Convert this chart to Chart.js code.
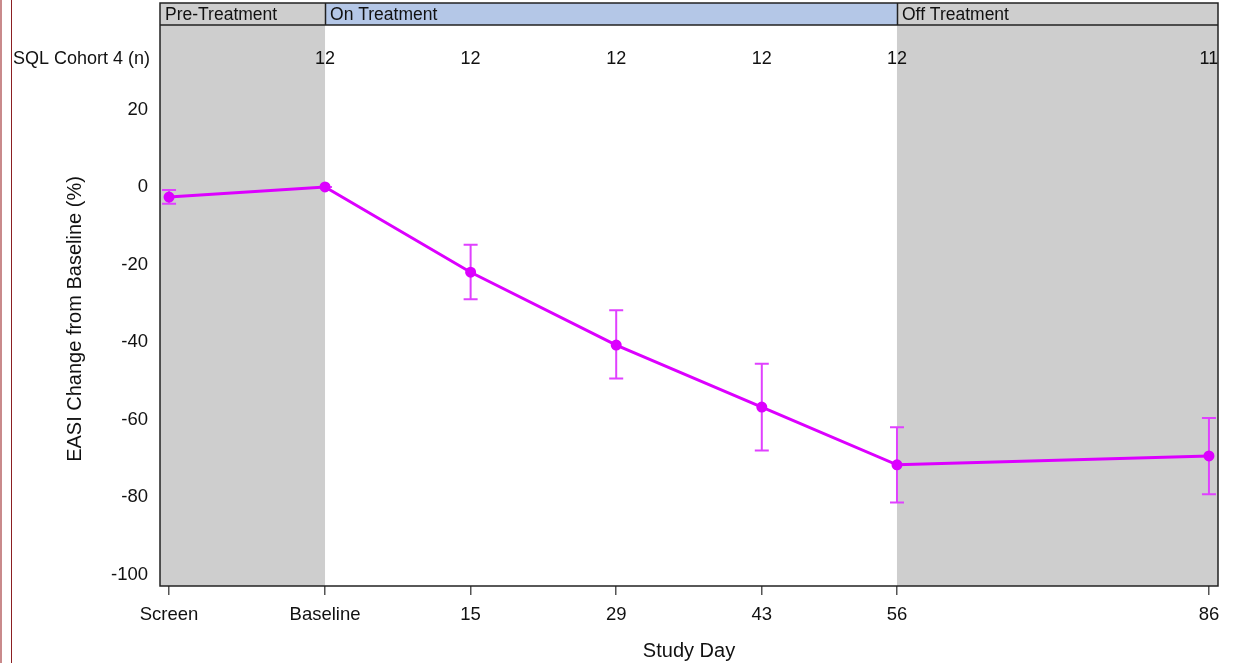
<!DOCTYPE html>
<html>
<head>
<meta charset="utf-8">
<script src="https://cdn.jsdelivr.net/npm/chart.js@4.4.1/dist/chart.umd.min.js"></script>
<style>
html, body { margin: 0; padding: 0; background: #fff; }
#wrap { position: relative; width: 1234px; height: 663px; }
#chart { display: block; }
.edge1 { position: absolute; left: 0; top: 0; width: 2px; height: 663px; background: #c98a8b; }
.edge2 { position: absolute; left: 11px; top: 0; width: 1px; height: 663px; background: #8b1f22; }
</style>
</head>
<body>
<div id="wrap">
  <canvas id="chart" width="1234" height="663" style="width:1234px;height:663px"></canvas>
  <div class="edge1"></div>
  <div class="edge2"></div>
</div>
<script>
// study visits (study day, with Screen at -14 and Baseline at day 1)
const days = [-14, 1, 15, 29, 43, 56, 86];
const dayLabels = ['Screen', 'Baseline', '15', '29', '43', '56', '86'];
// mean % change in EASI and the error bar ends
const means = [-2.6, 0, -22.0, -40.8, -56.8, -71.7, -69.4];
const upper = [-0.8, 0, -14.9, -31.8, -45.6, -62.0, -59.6];
const lower = [-4.3, 0, -29.0, -49.4, -68.0, -81.4, -79.3];
// subjects per visit
const counts = [null, 12, 12, 12, 12, 12, 11];
const yTicks = [-100, -80, -60, -40, -20, 0, 20];

// axis ranges
const xMin = -14.87, xMax = 86.87;
const yMin = -102.97, yMax = 41.8;

// treatment phases along the day axis
const phaseNames = ['Pre-Treatment', 'On Treatment', 'Off Treatment'];
const phaseStart = [xMin, 1, 56];
const phaseEnd = [1, 56, xMax];

const FONT = '"Liberation Sans", Arial, sans-serif';
const MAGENTA = '#dc00ff';

const decor = {
    id: 'decor',
    beforeDatasetsDraw(chart) {
        const ctx = chart.ctx;
        const xs = chart.scales.x, ys = chart.scales.y;
        const a = chart.chartArea;
        ctx.save();
        // grey shading for pre and off treatment
        ctx.fillStyle = '#cecece';
        [0, 2].forEach(i => {
            const x1 = xs.getPixelForValue(phaseStart[i]);
            const x2 = xs.getPixelForValue(phaseEnd[i]);
            ctx.fillRect(x1, a.top, x2 - x1, a.bottom - a.top);
        });
        // error bars
        ctx.strokeStyle = '#e040ff';
        ctx.lineWidth = 2;
        for (let i = 0; i < days.length; i++) {
            const x = xs.getPixelForValue(days[i]);
            const yt = ys.getPixelForValue(upper[i]);
            const yb = ys.getPixelForValue(lower[i]);
            ctx.beginPath();
            ctx.moveTo(x, yt); ctx.lineTo(x, yb);
            ctx.moveTo(x - 7, yt); ctx.lineTo(x + 7, yt);
            ctx.moveTo(x - 7, yb); ctx.lineTo(x + 7, yb);
            ctx.stroke();
        }
        ctx.restore();
    },
    afterDraw(chart) {
        const ctx = chart.ctx;
        const xs = chart.scales.x;
        const a = chart.chartArea;
        const bandTop = 3;
        ctx.save();
        // header band with phase names
        const fills = ['#cecece', '#b4c7e7', '#cecece'];
        ctx.font = '17.5px ' + FONT;
        ctx.textBaseline = 'middle';
        ctx.textAlign = 'left';
        for (let i = 0; i < phaseNames.length; i++) {
            const x1 = xs.getPixelForValue(phaseStart[i]);
            const x2 = xs.getPixelForValue(phaseEnd[i]);
            ctx.fillStyle = fills[i];
            ctx.fillRect(x1, bandTop, x2 - x1, a.top - bandTop);
            ctx.fillStyle = '#111';
            ctx.fillText(phaseNames[i], x1 + 5, (bandTop + a.top) / 2 + 1);
        }
        ctx.strokeStyle = '#222';
        ctx.lineWidth = 1.5;
        ctx.beginPath();
        ctx.moveTo(a.left, a.top); ctx.lineTo(a.right, a.top);
        [1, 2].forEach(i => {
            const x = Math.round(xs.getPixelForValue(phaseStart[i])) + 0.5;
            ctx.moveTo(x, bandTop); ctx.lineTo(x, a.top);
        });
        ctx.stroke();
        // outer frame
        ctx.strokeRect(a.left, bandTop, a.right - a.left, a.bottom - bandTop);

        // subject counts row
        ctx.fillStyle = '#111';
        ctx.font = '18px ' + FONT;
        ctx.textAlign = 'right';
        ctx.fillText('SQL Cohort 4 (n)', 150, 59);
        ctx.textAlign = 'center';
        for (let i = 0; i < days.length; i++) {
            if (counts[i] == null) continue;
            ctx.fillText(String(counts[i]), xs.getPixelForValue(days[i]), 59);
        }

        // y axis title
        ctx.translate(75, 319);
        ctx.rotate(-Math.PI / 2);
        ctx.font = '20px ' + FONT;
        ctx.fillText('EASI Change from Baseline (%)', 0, 0);
        ctx.restore();
    }
};

new Chart(document.getElementById('chart'), {
    type: 'line',
    data: {
        datasets: [{
            data: days.map((d, i) => ({x: d, y: means[i]})),
            borderColor: MAGENTA,
            backgroundColor: MAGENTA,
            borderWidth: 3,
            pointRadius: 4,
            pointHoverRadius: 4,
            tension: 0
        }]
    },
    options: {
        responsive: false,
        animation: false,
        layout: { padding: { top: 25, right: 16, bottom: 0, left: 0 } },
        plugins: { legend: { display: false }, tooltip: { enabled: false } },
        scales: {
            x: {
                type: 'linear',
                min: xMin,
                max: xMax,
                afterBuildTicks: s => { s.ticks = days.map(v => ({value: v})); },
                afterFit: s => { s.height = 77; },
                ticks: {
                    autoSkip: false,
                    maxRotation: 0,
                    padding: 9,
                    color: '#111',
                    font: { family: FONT, size: 18.5 },
                    callback: v => dayLabels[days.indexOf(v)]
                },
                grid: { drawOnChartArea: false, tickLength: 9, color: '#555', lineWidth: 1.5 },
                border: { display: false },
                title: {
                    display: true,
                    text: 'Study Day',
                    color: '#111',
                    font: { family: FONT, size: 20 },
                    padding: { top: 0, bottom: 0 }
                }
            },
            y: {
                min: yMin,
                max: yMax,
                afterBuildTicks: s => { s.ticks = yTicks.map(v => ({value: v})); },
                afterFit: s => { s.width = 160; },
                ticks: {
                    padding: 12,
                    color: '#111',
                    font: { family: FONT, size: 18.5 }
                },
                grid: { display: false, drawTicks: false },
                border: { display: false }
            }
        }
    },
    plugins: [decor]
});
</script>
</body>
</html>
